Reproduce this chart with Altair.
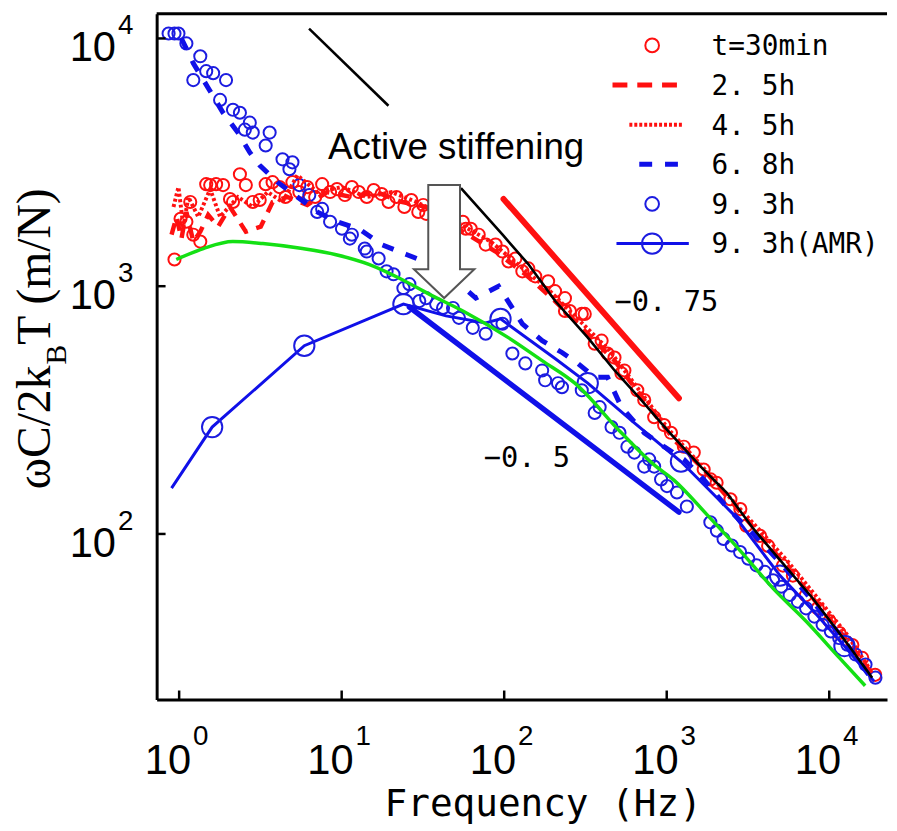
import altair as alt
import pandas as pd

# ---------------- data ----------------
# t=30min : red open circles
r30_f = [0.936, 1.02, 1.108, 1.17, 1.222, 1.349, 1.467, 1.552, 1.688, 1.863,
         2.055, 2.144, 2.365, 2.572, 2.838, 3.131, 3.407, 3.758, 4.147, 4.511,
         4.977, 5.49, 6.14, 6.87, 7.585, 8.486, 9.36, 10.47, 11.56, 12.75,
         14.27, 15.74, 17.61, 19.43, 21.74, 24.3, 26.83, 29.6, 31.75, 33.12,
         38.12, 47.06, 55.68, 58.07, 62.31, 69.7, 76.9, 88.5, 97.6, 106.2, 117.2,
         129.3, 140.7, 155.2, 186.3, 205.5, 236.5, 236.5, 253.7, 300.2, 313.1, 360.4,
         397.6, 432.5, 477.2, 526.4, 549, 659, 727, 837, 963, 1062,
         1275, 1467, 1688, 1863, 2027, 2466, 2838, 3087, 3758, 4205,
         5190, 5974, 7170, 8486, 10040, 11560, 13870, 15960, 19160]
r30_y = [1282, 1871, 1820, 2188, 1614, 1514, 2582, 2559, 2582, 2559,
         2249, 2188, 2831, 2559, 2188, 2228, 2582, 2630, 2512, 2291,
         2630, 2399, 2512, 2291, 2582, 2399, 2466, 2333, 2512, 2399,
         2291, 2443, 2355, 2188, 2291, 2089, 2228, 1995, 2128, 1959,
         1905, 1854, 1820, 1706, 1706, 1614, 1472, 1472, 1380, 1259, 1294,
         1148, 1180, 1096, 1047, 955, 895, 794, 794, 773, 773, 586,
         603, 535, 515, 445, 457, 380, 347, 296, 275, 256,
         225, 213, 182, 166, 161, 138, 126, 108, 98.2, 89.5,
         74.5, 67.9, 56.5, 50.1, 44.5, 39.8, 35.6, 31.6, 27.0]

# 2.5h : red dashed
r25_f = [0.898, 0.963, 1.033, 1.108, 1.222, 1.349, 1.509, 1.736, 2.055, 2.572,
         3.176, 3.758, 4.64, 6.143, 8.136, 11.56, 16.41, 23.32, 33.12, 55.68,
         88.5, 134.9, 205.5, 313.1, 477.2, 727, 1108, 1688, 2573, 3920,
         5974, 9102, 13870, 19700]
r25_y = [1614, 1905, 1556, 1995, 1514, 1660, 1941, 1738, 2089, 1660,
         1738, 2188, 2291, 2128, 2399, 2291, 2399, 2188, 2089, 1660,
         1380, 1117, 871, 661, 501, 347, 240, 182, 132, 95.5,
         69.2, 49.2, 34.7, 25.6]

# 4.5h : red dotted
r45_f = [0.923, 0.99, 1.062, 1.139, 1.311, 1.552, 1.786, 2.299, 2.838, 3.504,
         4.325, 5.339, 7.07, 10.04, 14.27, 20.27, 28.78, 50.47, 82.5, 125.7,
         191.6, 291.9, 444.9, 678, 1033, 1574, 2399, 3655, 5567, 8486,
         12930, 18370]
r45_y = [2089, 2512, 1738, 2291, 1905, 2466, 1905, 2291, 2089, 2399,
         2188, 2805, 2399, 2512, 2291, 2399, 2188, 1820, 1514, 1202,
         955, 724, 550, 380, 263, 194, 142, 105, 77.3, 55,
         39.1, 27.5]

# 6.8h : blue dashed
b68_f = [1.033, 1.222, 1.509, 1.863, 2.299, 2.721, 3.131, 4.032, 5.339, 7.07,
         9.36, 12.75, 17.61, 25.01, 34.55, 47.06, 66.83, 92.3, 129.3, 171.2,
         226.7, 283.8, 360.4, 432.5, 526.4, 727, 963, 1275, 1688, 2399,
         3407, 5190, 7910, 12050, 18370]
b68_y = [10000, 7943, 6310, 5012, 4169, 3467, 3076, 2630, 2291, 1995,
         1820, 1706, 1472, 1343, 1236, 1096, 895, 1000, 705, 603,
         540, 488, 429, 429, 325, 256, 225, 200, 166, 126,
         100, 74.5, 53.5, 38, 25.8]

# 9.3h : blue open circles
b93_f = [0.861, 0.936, 0.990, 1.108, 1.222, 1.349, 1.467, 1.619, 1.786, 1.943,
         2.144, 2.365, 2.536, 2.721, 2.838, 3.407, 3.604, 4.325, 4.771, 4.977,
         5.491, 6.318, 7.07, 7.585, 8.486, 10.04, 11.23, 11.56, 13.87, 14.27,
         16.88, 18.89, 20.84, 23.98, 26.09, 30.02, 33.12, 38.12, 42.05, 48.4,
         52.64, 64.08, 76.9, 97.6, 112.3, 134.9, 171.2, 178.6, 214.3, 226.7,
         300.2, 360.4, 386.6, 457.5, 512, 572.8, 632, 727, 780, 837,
         923, 1004, 1156, 1330, 1855, 2035, 2236, 2512, 2827, 3176,
         3568, 4015, 4511, 5069, 5703, 6408, 7200, 8101, 9102, 10230,
         11510, 12930, 14530, 16720, 19240]
b93_y = [10471, 10471, 10471, 9550, 6792, 8472, 7379, 7244, 5649, 6792,
         5152, 5012, 4285, 4571, 4169, 3698, 4169, 3251, 2965, 3162,
         2559, 2333, 1995, 2051, 1820, 1706, 1556, 1614, 1419, 1380,
         1294, 1148, 1117, 982, 1019, 871, 895, 847, 817, 817,
         745, 679, 643, 705, 535, 488, 457, 417, 406, 391,
         380, 308, 325, 270, 256, 225, 213, 187, 200, 187,
         166, 156, 147, 129, 111.4, 103.1, 95.5, 89.8, 84.5, 79.4,
         74.7, 70.3, 65.0, 61.2, 56.7, 53.3, 50.1, 46.4, 43.0, 40.4,
         38.0, 35.7, 32.6, 29.7, 26.3]

# 9.3h (AMR) : blue line, large open circles on some points
amr_f = [0.898, 1.596, 5.89, 23.98, 43.86, 76.9, 94.9, 205.5, 326.6, 632,
         1223, 2573, 4977, 7910, 12400, 18890]
amr_y = [153, 270, 575, 847, 759, 711, 738, 511, 406, 281,
         196, 120, 67.9, 49.2, 35.3, 25.4]
amr_mark = [False, True, True, True, False, False, True, False, True, False,
            True, False, True, False, True, False]

# green curve
g_f = [0.96, 1.41, 2.14, 3.27, 5.73, 9.10, 14.7, 23.3, 34.5, 55.7,
       106, 171, 272, 526, 837, 1107, 1762, 2838, 4510, 7180,
       11560, 16630]
g_y = [1282, 1419, 1514, 1486, 1419, 1343, 1225, 1067, 929, 794,
       620, 501, 406, 256, 190, 165, 120, 85.5, 60.3, 44.5,
       31.6, 24.4]

# black curve (partly hidden behind the annotation)
k_f = [6.3, 19.4,
       54.2, 97.7, 141, 206, 327, 478, 698, 1005, 1618, 2333, 3412, 4510,
       7907, 12560, 18370]
k_y = [10960, 5350,
       2490, 1614, 1225, 871, 620, 457, 347, 263, 187, 147, 105, 84.7,
       55, 37, 26.3]
k_seg = [0, 0,
         1, 1, 1, 1, 1, 1, 1, 1, 1, 1, 1, 1,
         1, 1, 1]

# power-law guide lines
g75_f = [99, 1189]
g75_y = [2249, 353]
g50_f = [26.1, 1189]
g50_y = [824, 122.5]

# axes
x_ticks = [1, 10, 100, 1000, 10000]
x_exps = ["0", "1", "2", "3", "4"]
y_ticks = [100, 1000, 10000]
y_exps = ["2", "3", "4"]

legend_labels = ["t=30min", "2. 5h", "4. 5h", "6. 8h", "9. 3h", "9. 3h(AMR)"]

RED = "#ff1010"
BLUE = "#1c1ce0"
BLUE_LINE = "#1010e8"
GREEN = "#14e014"

W, H = 737, 692

xs = alt.Scale(type="log", domain=[0.727, 22670], nice=False)
ys = alt.Scale(type="log", domain=[21.48, 12590], nice=False)
xaxis = alt.Axis(labels=False, ticks=False, title=None, grid=False,
                 domainWidth=3, domainColor="black")
yaxis = alt.Axis(labels=False, ticks=False, title=None, grid=False,
                 domainWidth=3, domainColor="black")


def X():
    return alt.X("f:Q", scale=xs, axis=xaxis)


def Y():
    return alt.Y("y:Q", scale=ys, axis=yaxis)


def df(f, y, **extra):
    d = {"f": f, "y": y}
    d.update(extra)
    return pd.DataFrame(d)


layers = []

# open circles
layers.append(alt.Chart(df(r30_f, r30_y)).mark_point(
    shape="circle", filled=False, size=150, strokeWidth=2, color=RED,
    opacity=1, clip=True).encode(x=X(), y=Y()))
layers.append(alt.Chart(df(b93_f, b93_y)).mark_point(
    shape="circle", filled=False, size=150, strokeWidth=2, color=BLUE,
    opacity=1, clip=True).encode(x=X(), y=Y()))

# dashed / dotted lines
layers.append(alt.Chart(df(r25_f, r25_y)).mark_line(
    color=RED, strokeWidth=4.5, strokeDash=[12, 9], clip=True).encode(x=X(), y=Y()))
layers.append(alt.Chart(df(r45_f, r45_y)).mark_line(
    color=RED, strokeWidth=4, strokeDash=[3, 2.5], clip=True).encode(x=X(), y=Y()))
layers.append(alt.Chart(df(b68_f, b68_y)).mark_line(
    color=BLUE_LINE, strokeWidth=5, strokeDash=[12, 13], clip=True).encode(x=X(), y=Y()))

# AMR
amr_df = df(amr_f, amr_y, m=amr_mark)
layers.append(alt.Chart(amr_df).mark_line(
    color=BLUE_LINE, strokeWidth=3, clip=True).encode(x=X(), y=Y()))
layers.append(alt.Chart(amr_df).transform_filter("datum.m").mark_point(
    shape="circle", filled=False, size=420, strokeWidth=2, color=BLUE,
    opacity=1, clip=True).encode(x=X(), y=Y()))

# green and black curves
layers.append(alt.Chart(df(g_f, g_y)).mark_line(
    color=GREEN, strokeWidth=3.5, interpolate="monotone", clip=True).encode(x=X(), y=Y()))
layers.append(alt.Chart(df(k_f, k_y, seg=k_seg)).mark_line(
    color="black", strokeWidth=2.6, clip=True).encode(x=X(), y=Y(), detail="seg:N"))

# guides
layers.append(alt.Chart(df(g75_f, g75_y)).mark_line(
    color=RED, strokeWidth=6, strokeCap="round").encode(x=X(), y=Y()))
layers.append(alt.Chart(df(g50_f, g50_y)).mark_line(
    color=BLUE_LINE, strokeWidth=5.5, strokeCap="round").encode(x=X(), y=Y()))

# arrow annotation
arrow_path = ("M -0.267 -0.95 L 0.267 -0.95 L 0.267 0.467 L 0.508 0.467 "
              "L 0 0.95 L -0.508 0.467 L -0.267 0.467 Z")
layers.append(alt.Chart(df([42.7], [1514])).mark_point(
    shape=arrow_path, size=14400, filled=True, color="white", stroke="#555555",
    strokeWidth=2, opacity=1).encode(x=X(), y=Y()))

# annotations text
layers.append(alt.Chart(df([8.25], [3251], t=["Active stiffening"])).mark_text(
    font="Liberation Sans", fontSize=37, align="left", baseline="alphabetic",
    color="black").encode(x=X(), y=Y(), text="t:N"))
layers.append(alt.Chart(df([477, 74.8], [794, 187], t=["\u22120. 75", "\u22120. 5"])).mark_text(
    font="DejaVu Sans Mono", fontSize=29, align="left", baseline="alphabetic",
    color="black").encode(x=X(), y=Y(), text="t:N"))

# frame: top line and inward ticks
layers.append(alt.Chart(df([1], [100])).mark_rule(color="black", strokeWidth=3).encode(
    x=alt.value(0), x2=alt.value(W), y=alt.value(0)))
xt = df(x_ticks, [100] * len(x_ticks), e=x_exps)
yt = df([1] * len(y_ticks), y_ticks, e=y_exps)
layers.append(alt.Chart(xt).mark_rule(color="black", strokeWidth=2.5).encode(
    x=X(), y=alt.value(H - 9), y2=alt.value(H)))
layers.append(alt.Chart(yt).mark_rule(color="black", strokeWidth=2.5).encode(
    y=Y(), x=alt.value(0), x2=alt.value(9)))

# tick labels 10^n
layers.append(alt.Chart(xt).mark_text(
    font="Liberation Sans", fontSize=42, align="right", baseline="alphabetic",
    dx=12, color="black").encode(x=X(), y=alt.value(767), text=alt.value("10")))
layers.append(alt.Chart(xt).mark_text(
    font="Liberation Sans", fontSize=28, align="left", baseline="alphabetic",
    dx=14, color="black").encode(x=X(), y=alt.value(738), text="e:N"))
layers.append(alt.Chart(yt).mark_text(
    font="Liberation Sans", fontSize=42, align="right", baseline="alphabetic",
    dy=23, color="black").encode(y=Y(), x=alt.value(-41), text=alt.value("10")))
layers.append(alt.Chart(yt).mark_text(
    font="Liberation Sans", fontSize=28, align="left", baseline="alphabetic",
    dy=-4, color="black").encode(y=Y(), x=alt.value(-39), text="e:N"))

# axis titles
layers.append(alt.Chart(df([1], [100], t=["Frequency (Hz)"])).mark_text(
    font="DejaVu Sans Mono", fontSize=38, align="left", baseline="alphabetic",
    color="black").encode(x=alt.value(230), y=alt.value(810), text="t:N"))
ytitle = [("\u03c9C/2k", 48, -108, 480), ("B", 30, -91, 354), ("T (m/N)", 48, -108, 334)]
for txt, fs, px, py in ytitle:
    layers.append(alt.Chart(df([1], [100], t=[txt])).mark_text(
        font="Liberation Serif", fontSize=fs, angle=270, align="left",
        baseline="alphabetic", color="black").encode(
        x=alt.value(px), y=alt.value(py), text="t:N"))

# legend (drawn inside the plot, upper right)
for i, lab in enumerate(legend_labels):
    layers.append(alt.Chart(df([1], [100], t=[lab])).mark_text(
        font="DejaVu Sans Mono", fontSize=28, align="left", baseline="alphabetic",
        color="black").encode(x=alt.value(560), y=alt.value(42 + 40 * i), text="t:N"))
leg_y = [32 + 40 * i for i in range(len(legend_labels))]
layers.append(alt.Chart(df([1], [100])).mark_point(
    shape="circle", filled=False, size=190, strokeWidth=2, color=RED, opacity=1).encode(
    x=alt.value(500), y=alt.value(leg_y[0])))
layers.append(alt.Chart(df([1], [100])).mark_rule(
    color=RED, strokeWidth=5, strokeDash=[15, 10]).encode(
    x=alt.value(460), x2=alt.value(530), y=alt.value(leg_y[1])))
layers.append(alt.Chart(df([1], [100])).mark_rule(
    color=RED, strokeWidth=4, strokeDash=[3, 2]).encode(
    x=alt.value(477), x2=alt.value(530), y=alt.value(leg_y[2])))
layers.append(alt.Chart(df([1], [100])).mark_rule(
    color=BLUE_LINE, strokeWidth=5, strokeDash=[13, 13]).encode(
    x=alt.value(487), x2=alt.value(531), y=alt.value(leg_y[3])))
layers.append(alt.Chart(df([1], [100])).mark_point(
    shape="circle", filled=False, size=190, strokeWidth=2, color=BLUE, opacity=1).encode(
    x=alt.value(500), y=alt.value(leg_y[4])))
layers.append(alt.Chart(df([1], [100])).mark_rule(
    color=BLUE_LINE, strokeWidth=3).encode(
    x=alt.value(464), x2=alt.value(537), y=alt.value(leg_y[5])))
layers.append(alt.Chart(df([1], [100])).mark_point(
    shape="circle", filled=False, size=420, strokeWidth=2, color=BLUE, opacity=1).encode(
    x=alt.value(500), y=alt.value(leg_y[5])))

chart = alt.layer(*layers).properties(
    width=W, height=H,
    autosize=alt.AutoSizeParams(type="none"),
    padding={"left": 150, "top": 2, "right": 2, "bottom": 125},
).configure_view(stroke=None)

chart.save("out.html", embed_options={"renderer": "svg", "actions": False})
